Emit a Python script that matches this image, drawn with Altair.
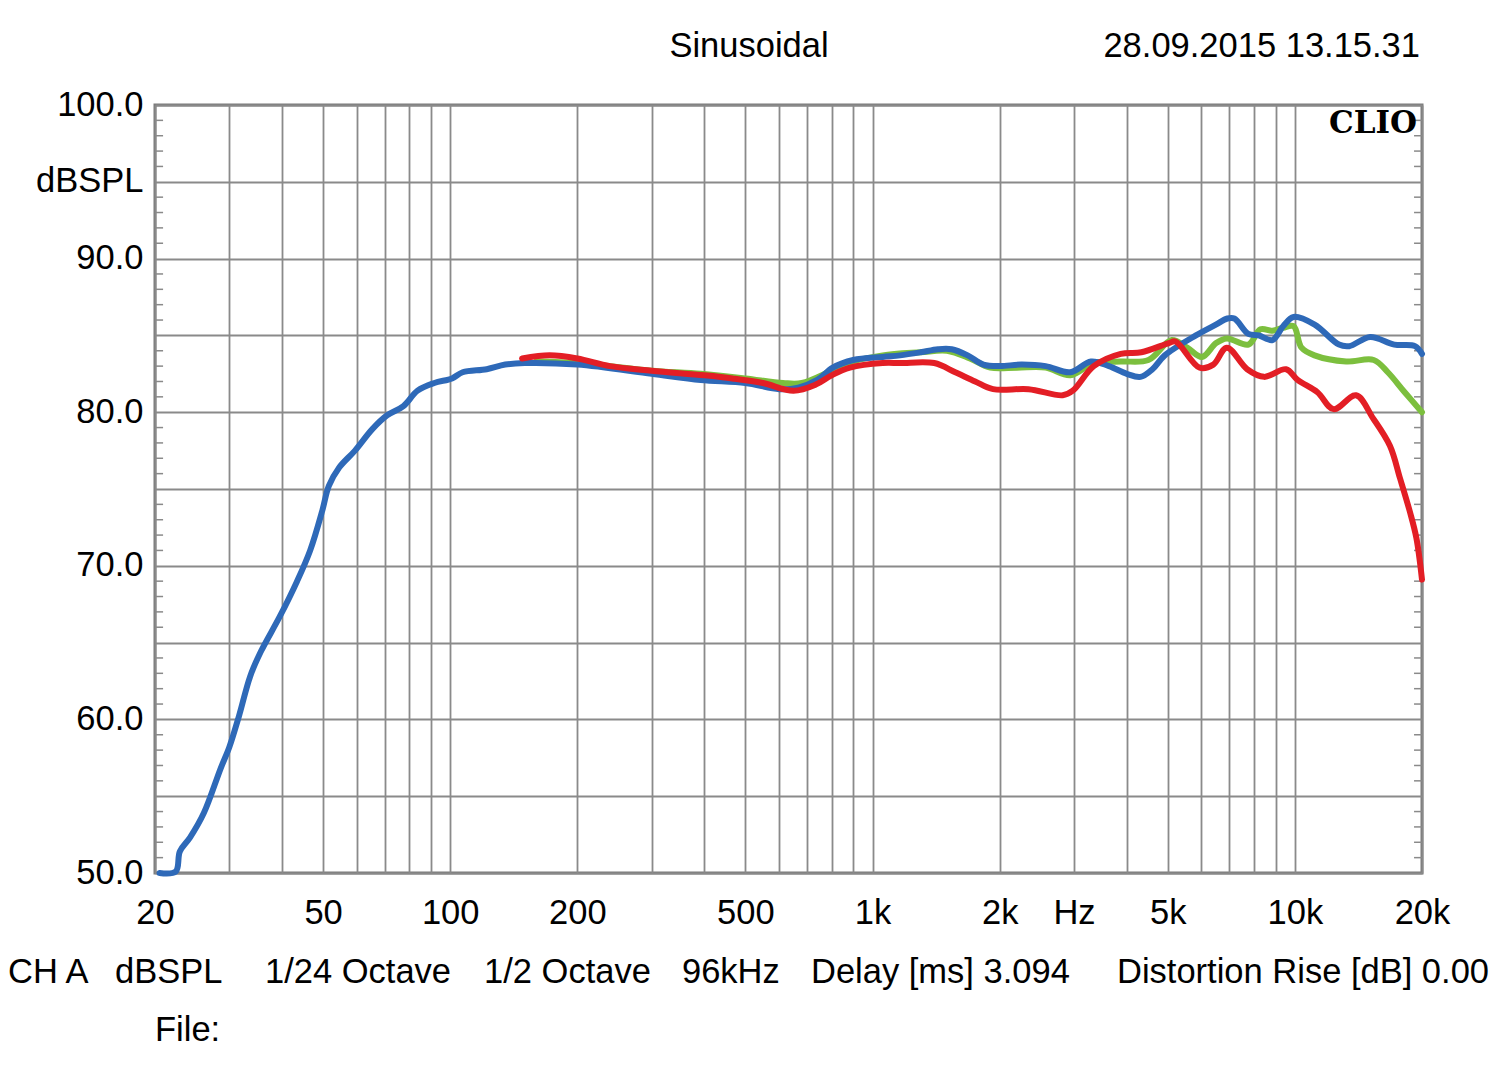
import altair as alt
import pandas as pd

# ---------------- data ----------------
blue_f = [20.5, 22.4, 22.9, 24.2, 26.1, 28.6, 30.0, 31.6, 33.6, 35.6, 39.5, 43.4, 46.6, 49.8,
          51.6, 54.6, 59.5, 65.4, 70.9, 77.5, 83.7, 91.7, 101, 107, 122, 135, 150, 200, 300,
          392, 500, 601, 667, 740, 805, 900, 1057, 1162, 1300, 1429, 1540, 1680, 1830, 2000,
          2250, 2570, 2940, 3290, 3630, 4000, 4310, 4600, 4920, 5830, 6500, 6920, 7190, 7760,
          8210, 8850, 9380, 9930, 11140, 12720, 13450, 15080, 17200, 19250, 20000]
blue_db = [50.0, 50.1, 51.4, 52.3, 53.9, 56.8, 58.2, 60.2, 62.8, 64.4, 66.7, 69.0, 71.0, 73.6,
           75.2, 76.4, 77.5, 78.9, 79.8, 80.4, 81.4, 81.9, 82.2, 82.6, 82.8, 83.1, 83.2, 83.1, 82.5,
           82.1, 81.9, 81.5, 81.6, 82.1, 82.9, 83.4, 83.6, 83.7, 83.9, 84.1, 84.1, 83.7, 83.1, 83.0,
           83.1, 83.0, 82.6, 83.3, 83.0, 82.5, 82.3, 82.8, 83.7, 85.0, 85.7, 86.1, 86.1, 85.1,
           85.0, 84.7, 85.6, 86.2, 85.7, 84.4, 84.3, 84.9, 84.4, 84.3, 83.8]

red_f = [148, 172, 200, 239, 300, 400, 466, 550, 650, 734, 800, 884, 1057, 1162, 1400, 1570,
         1750, 1930, 2340, 2820, 2980, 3340, 3870, 4330, 5030, 5220, 5950, 6410, 6900, 7710,
         8460, 9530, 10150, 11310, 12350, 13960, 15320, 16800, 17740, 18730, 19400, 20000]
red_db = [83.5, 83.7, 83.5, 83.0, 82.7, 82.4, 82.2, 81.9, 81.4, 81.8, 82.4, 82.9, 83.2, 83.2, 83.2, 82.6,
          82.0, 81.5, 81.5, 81.1, 81.4, 83.0, 83.8, 83.9, 84.5, 84.6, 82.9, 83.1, 84.2, 82.8,
          82.3, 82.8, 82.1, 81.3, 80.2, 81.1, 79.6, 77.8, 75.7, 73.5, 71.8, 69.1]

green_f = [160, 200, 239, 300, 392, 500, 614, 680, 800, 900, 1057, 1300, 1500, 1700, 1900, 2200,
           2570, 2940, 3340, 3870, 4500, 5110, 5560, 6030, 6510, 6900, 7760, 8290, 8850, 9380,
           9930, 10370, 11130, 13230, 15370, 16600, 18200, 20000]
green_db = [83.3, 83.2, 83.0, 82.7, 82.5, 82.2, 81.9, 81.9, 82.7, 83.3, 83.7, 83.9, 84.0, 83.5, 82.9, 82.9,
            82.9, 82.4, 83.2, 83.3, 83.4, 84.7, 84.2, 83.6, 84.5, 84.8, 84.4, 85.4, 85.3, 85.5,
            85.6, 84.2, 83.7, 83.3, 83.4, 82.6, 81.3, 80.0]

x_label_values = [20, 50, 100, 200, 500, 1000, 2000, 3000, 5000, 10000, 20000]
x_label_texts = ["20", "50", "100", "200", "500", "1k", "2k", "Hz", "5k", "10k", "20k"]
x_grid_values = [m * 10 ** k for k in range(1, 5) for m in range(1, 10) if 20 <= m * 10 ** k <= 20000]
y_grid_values = list(range(50, 101, 5))
y_minor_values = [v for v in range(51, 100) if v % 5 != 0]

title_text = "Sinusoidal"
date_text = "28.09.2015 13.15.31"
brand_text = "CLIO"
info_texts = ["CH A", "dBSPL", "1/24 Octave", "1/2 Octave", "96kHz", "Delay [ms] 3.094",
              "Distortion Rise [dB] 0.00"]
file_text = "File:"

# ---------------- build tables ----------------
df = pd.concat([
    pd.DataFrame({"f": blue_f, "db": blue_db, "s": "blue"}),
    pd.DataFrame({"f": red_f, "db": red_db, "s": "red"}),
    pd.DataFrame({"f": green_f, "db": green_db, "s": "green"}),
])

ticks_df = pd.DataFrame({
    "db": y_minor_values * 2,
    "f1": [20] * len(y_minor_values) + [19150] * len(y_minor_values),
    "f2": [20.9] * len(y_minor_values) + [20000] * len(y_minor_values),
})

FONT = "Liberation Sans"
FS = 34.5
W, H = 1267, 768

label_expr = " : ".join(
    f"datum.value == {v} ? '{t}'" for v, t in zip(x_label_values, x_label_texts)
) + " : ''"

xscale = alt.Scale(type="log", domain=[20, 20000], nice=False)
yscale = alt.Scale(domain=[50, 100], nice=False, zero=False)

xaxis = alt.Axis(values=x_grid_values, labelExpr=label_expr, title=None, grid=True,
                 ticks=False, domain=False, labelOverlap=False, labelFlush=False,
                 labelFontSize=FS, labelFont=FONT, labelColor="#000000",
                 labelBaseline="middle", labelPadding=40)
yaxis = alt.Axis(values=y_grid_values, title=None, grid=True, ticks=False, domain=False,
                 labelExpr="datum.value == 95 ? 'dBSPL' : (datum.value % 10 == 0 ? format(datum.value, '.1f') : '')",
                 labelFontSize=FS, labelFont=FONT, labelColor="#000000", labelPadding=12,
                 labelOverlap=False, labelFlush=False)

base = alt.Chart(df)

grid_layer = base.mark_line(opacity=0).encode(
    x=alt.X("f:Q", scale=xscale, axis=xaxis),
    y=alt.Y("db:Q", scale=yscale, axis=yaxis),
    detail="s:N",
)

minor = alt.Chart(ticks_df).mark_rule(color="#8a8a8a", strokeWidth=1.5).encode(
    x=alt.X("f1:Q", scale=xscale), x2="f2:Q", y=alt.Y("db:Q", scale=yscale)
)


def series(name, color):
    return base.transform_filter(alt.datum.s == name).mark_line(
        color=color, strokeWidth=6, interpolate="catmull-rom", strokeCap="round", strokeJoin="round"
    ).encode(
        x=alt.X("f:Q", scale=xscale),
        y=alt.Y("db:Q", scale=yscale),
        order="f:Q",
    )


def label(text, x, y, size=FS, align="left", font=FONT, weight="normal"):
    return alt.Chart(pd.DataFrame({"t": [text]})).mark_text(
        align=align, baseline="middle", fontSize=size, font=font, fontWeight=weight, color="#000000"
    ).encode(text="t:N", x=alt.value(x), y=alt.value(y))


texts = [
    label(title_text, 594, -58, align="center"),
    label(date_text, 1265, -58, align="right"),
    label(brand_text, 1262, 19, size=31, align="right", font="DejaVu Serif", weight="bold"),
]
info_x = [-147, -40, 110, 329, 527, 656, 962]
for t, xx in zip(info_texts, info_x):
    texts.append(label(t, xx, 868))
texts.append(label(file_text, 0, 926))

chart = alt.layer(
    grid_layer, minor,
    series("green", "#7cbf3e"),
    series("blue", "#2e69b8"),
    series("red", "#e31e25"),
    *texts,
).properties(
    width=W, height=H,
    autosize=alt.AutoSizeParams(type="none"),
    padding={"left": 147, "top": 97, "right": 70, "bottom": 190},
    background="#ffffff",
).configure_view(
    stroke="#7a7a7a", strokeWidth=3
).configure_axis(
    gridColor="#8a8a8a", gridWidth=1.8, gridOpacity=1
)

chart.save("out.html", embed_options={"renderer": "svg", "actions": False})
